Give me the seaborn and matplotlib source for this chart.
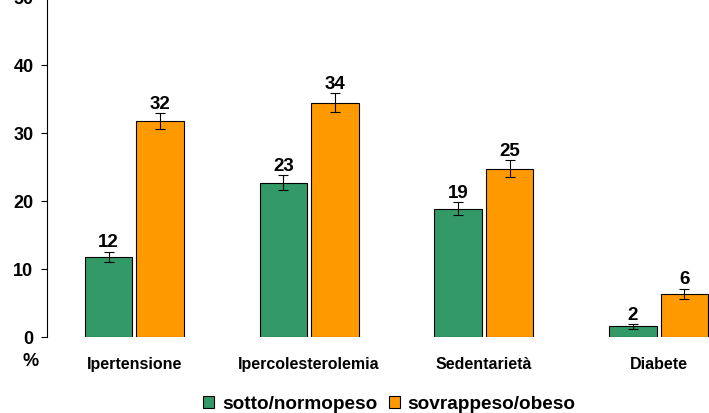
import matplotlib
matplotlib.use('Agg')
import matplotlib.pyplot as plt
import seaborn as sns
import pandas as pd

# dati
categorie = ['Ipertensione', 'Ipercolesterolemia', 'Sedentarietà', 'Diabete']
gruppi = ['sotto/normopeso', 'sovrappeso/obeso']
valori_normo = [11.7, 22.6, 18.8, 1.5]
valori_sovra = [31.7, 34.4, 24.7, 6.3]
err_normo = [0.8, 1.1, 1.0, 0.37]
err_sovra = [1.2, 1.4, 1.25, 0.75]
yticks = [0, 10, 20, 30, 40, 50]

verde = '#339966'
arancio = '#FF9900'

sns.set_style('white')
plt.rcParams['font.family'] = ['Liberation Sans', 'DejaVu Sans']
plt.rcParams['font.weight'] = 'bold'
plt.rcParams['text.color'] = 'black'
plt.rcParams['xtick.color'] = 'black'
plt.rcParams['ytick.color'] = 'black'

df = pd.DataFrame({
    'categoria': categorie * 2,
    'gruppo': [gruppi[0]] * len(categorie) + [gruppi[1]] * len(categorie),
    'valore': valori_normo + valori_sovra,
})

fig = plt.figure(figsize=(7.09, 4.14), dpi=100)
ax = fig.add_axes([47 / 709, 1 - 337.5 / 414, 699 / 709, 340 / 414])

sns.barplot(data=df, x='categoria', y='valore', hue='gruppo',
            palette=[verde, arancio], saturation=1, width=0.59, gap=0.08,
            edgecolor='black', linewidth=0.8, errorbar=None, ax=ax)

# barre di errore ed etichette sopra
for cont, errs in zip(ax.containers, [err_normo, err_sovra]):
    xs = [b.get_x() + b.get_width() / 2 for b in cont]
    hs = [b.get_height() for b in cont]
    ax.errorbar(xs, hs, yerr=errs, fmt='none', ecolor='black',
                elinewidth=0.8, capsize=3.6, capthick=0.8)
    for x, h, e in zip(xs, hs, errs):
        ax.text(x, h + e + 0.75, str(int(h + 0.5)), ha='center', va='baseline',
                fontsize=13.5, fontweight='bold')

ax.set_xlim(-0.5, 3.5)
ax.set_ylim(0, 50)
ax.set_yticks(yticks)
ax.set_xlabel('')
ax.set_ylabel('')
for s in ['top', 'right', 'bottom']:
    ax.spines[s].set_visible(False)
ax.spines['left'].set_color('black')
ax.spines['left'].set_linewidth(0.8)
ax.tick_params(axis='y', length=4.3, width=0.8, color='black', pad=5.5,
               labelsize=13, left=True)
ax.tick_params(axis='x', length=0, pad=14, labelsize=11.5)
for t in ax.get_xticklabels() + ax.get_yticklabels():
    t.set_fontweight('bold')

fig.text(31 / 709, 1 - 361.5 / 414, '%', ha='center', va='center',
         fontsize=13, fontweight='bold')

ax.legend(loc='center', bbox_to_anchor=(0.549, 1 - 405 / 414),
          bbox_transform=fig.transFigure, ncol=2, frameon=False,
          handlelength=0.6, handleheight=0.6, handletextpad=0.4,
          columnspacing=0.6, prop={'weight': 'bold', 'size': 13.7})

fig.savefig('out.png', dpi=100)
